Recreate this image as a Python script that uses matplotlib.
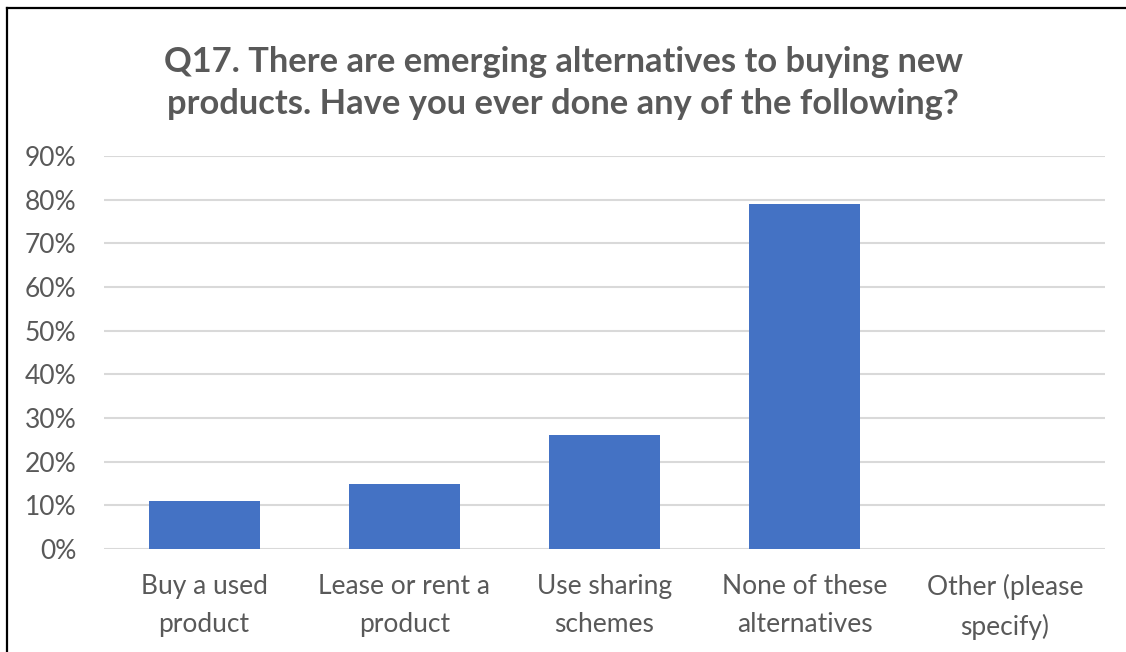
import matplotlib
matplotlib.use("Agg")
import matplotlib.pyplot as plt
from matplotlib.lines import Line2D
from matplotlib.ticker import FixedLocator

categories = ["Buy a used\nproduct", "Lease or rent a\nproduct", "Use sharing\nschemes",
              "None of these\nalternatives", "Other (please\nspecify)"]
values = [11, 15, 26, 79, 0]
yticks = [0, 10, 20, 30, 40, 50, 60, 70, 80, 90]
ytick_labels = [f"{v}%" for v in yticks]
title = "Q17. There are emerging alternatives to buying new\nproducts. Have you ever done any of the following?"

plt.rcParams['font.family'] = ['Lato', 'DejaVu Sans']
W, H = 1126, 652
fig = plt.figure(figsize=(W / 100, H / 100), dpi=100)
ax = fig.add_axes([104 / W, 1 - 549 / H, (1105 - 104) / W, (549 - 156) / H])

x = list(range(len(categories)))
ax.bar(x, values, width=0.555, color="#4472C4", zorder=3)
ax.set_xlim(-0.5, len(categories) - 0.5)
ax.set_ylim(0, 90)
ax.yaxis.set_major_locator(FixedLocator(yticks))
ax.set_yticklabels(ytick_labels)
ax.set_xticks(x)
ax.set_xticklabels(categories, linespacing=1.65)
ax.grid(axis="y", color="#D9D9D9", linewidth=1.5, zorder=0)
for s in ax.spines.values():
    s.set_visible(False)
ax.tick_params(axis="y", length=0, pad=20, labelsize=19, labelcolor="#595959")
ax.tick_params(axis="x", length=0, pad=18, labelsize=19, labelcolor="#595959")

fig.text(0.5, 1 - 83 / H, title, ha="center", va="center", fontsize=24.8,
         fontweight="bold", color="#595959", linespacing=1.36)

# frame lines (left and top only, as in the reference)
fig.add_artist(Line2D([6.5 / W, 6.5 / W], [0, 1 - 7.5 / H], transform=fig.transFigure,
                      color="black", linewidth=1.6))
fig.add_artist(Line2D([6.5 / W, 1], [1 - 7.5 / H, 1 - 7.5 / H], transform=fig.transFigure,
                      color="black", linewidth=1.6))

fig.savefig("out.png", dpi=100, facecolor="white")
